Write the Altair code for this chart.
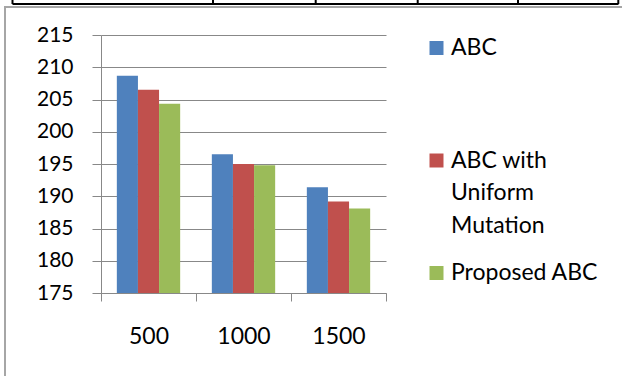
import altair as alt
import pandas as pd

categories = ["500", "1000", "1500"]
series = ["ABC", "ABC with Uniform Mutation", "Proposed ABC"]
abc = [208.7, 196.5, 191.4]
abc_uniform = [206.5, 195.0, 189.2]
proposed = [204.35, 194.8, 188.1]
legend_labels = ["ABC", "ABC with\nUniform\nMutation", "Proposed ABC"]
y_ticks = [175, 180, 185, 190, 195, 200, 205, 210, 215]
colors = ["#4F81BD", "#C0504D", "#9BBB59"]

rows = []
for s, vals in zip(series, [abc, abc_uniform, proposed]):
    for c, v in zip(categories, vals):
        rows.append({"cat": c, "series": s, "value": v})
df = pd.DataFrame(rows)
legend_df = pd.DataFrame({"series": series, "label": legend_labels})

W, H = 285, 258
color = alt.Color("series:N", sort=series, scale=alt.Scale(domain=series, range=colors), legend=None)

bars = alt.Chart(df).mark_bar().encode(
    x=alt.X("cat:N", sort=categories, title=None,
            scale=alt.Scale(paddingInner=0, paddingOuter=0),
            axis=alt.Axis(tickBand="extent", labelAngle=0, labelFontSize=23, labelPadding=24,
                          tickSize=8, domainColor="#888888", tickColor="#888888",
                          grid=False,
                          labelColor="#000000", labelFont="Lato", zindex=1)),
    xOffset=alt.XOffset("series:N", sort=series, scale=alt.Scale(paddingInner=0, paddingOuter=0.75)),
    y=alt.Y("value:Q", title=None,
            scale=alt.Scale(domain=[175, 215], zero=False, nice=False, clamp=True),
            axis=alt.Axis(values=y_ticks, tickSize=9, labelPadding=19, labelFontSize=21,
                          domainColor="#888888", tickColor="#888888", gridColor="#888888",
                          labelColor="#000000", labelFont="Lato", orient="left")),
    color=color,
)

leg_y = alt.Y("series:N", sort=series, title=None, axis=None,
              scale=alt.Scale(type="point", padding=0.1467, align=0.394))

leg_sym = alt.Chart(legend_df).mark_square(size=196, opacity=1).encode(
    x=alt.value(335.5), y=leg_y, color=color)

leg_txt = alt.Chart(legend_df).mark_text(
    align="left", baseline="alphabetic", dy=7, fontSize=23, font="Lato",
    lineBreak="\n", lineHeight=32.5, color="#000000"
).encode(x=alt.value(350), y=leg_y, text="label:N")

one = alt.Data(values=[{}])
frame = [
    alt.Chart(one).mark_rule(color="#a6a6a6", strokeWidth=2).encode(
        x=alt.value(-96), y=alt.value(-28), y2=alt.value(H + 83)),
    alt.Chart(one).mark_rule(color="#a6a6a6", strokeWidth=2).encode(
        x=alt.value(-97), x2=alt.value(W + 236), y=alt.value(-28)),
    alt.Chart(one).mark_rule(color="#000000", strokeWidth=2).encode(
        x=alt.value(-88.5), x2=alt.value(517.5), y=alt.value(-31)),
]
for xv in [-88.5, 112, 214.7, 316.7, 417, 517.3]:
    frame.append(alt.Chart(one).mark_rule(color="#000000", strokeWidth=2).encode(
        x=alt.value(xv), y=alt.value(-36), y2=alt.value(-31)))

chart = alt.layer(bars, leg_sym, leg_txt, *frame).resolve_scale(y="independent").properties(
    width=W, height=H,
    autosize=alt.AutoSizeParams(type="none"),
    padding={"left": 101, "top": 35, "right": 236, "bottom": 83},
    background="#ffffff",
).configure(font="Lato").configure_view(strokeWidth=0, stroke="transparent")

chart.save("out.html", embed_options={"renderer": "svg", "actions": False})
